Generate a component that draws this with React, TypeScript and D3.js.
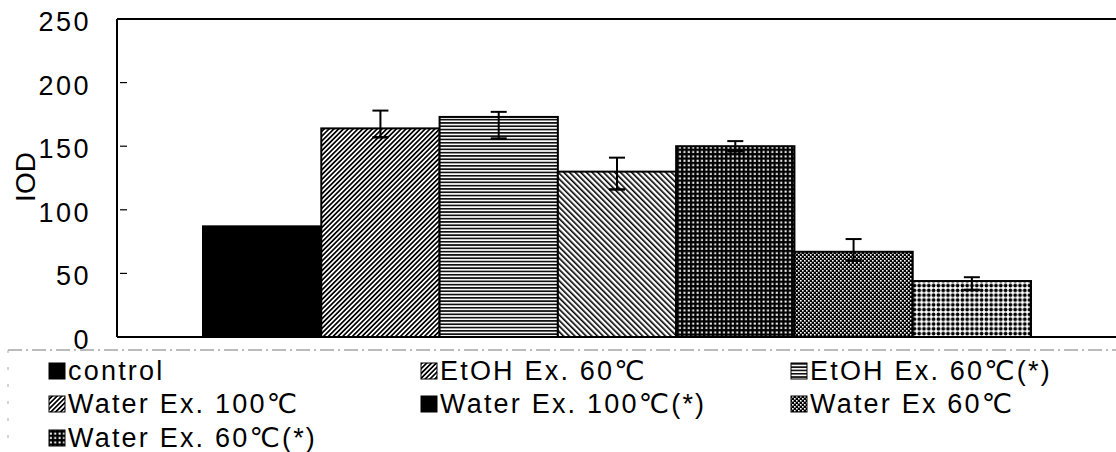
import React from "react";
import * as d3 from "d3";

const categories = [
  "control",
  "EtOH Ex. 60℃",
  "EtOH Ex. 60℃(*)",
  "Water Ex. 100℃",
  "Water Ex. 100℃(*)",
  "Water Ex 60℃",
  "Water Ex. 60℃(*)",
];
const values = [87, 164, 173, 130, 150, 67, 44];
const errUpper = [NaN, 178, 177, 141, 154, 77, 47];
const errLower = [NaN, 157, 156, 116, 146, 60, 37];
const barPatterns = ["solid", "diagR", "horiz", "diagL", "grid", "checker", "dots"];
const legendPatterns = ["solid", "diagR", "horiz", "diagR", "solid", "checker", "grid"];
const yTicks = [0, 50, 100, 150, 200, 250];

const W = 1116;
const H = 452;
const FONT = "'Liberation Sans', Arial, 'DejaVu Sans', 'Noto Sans CJK KR', sans-serif";

function fillFor(p: string) {
  return p === "solid" ? "#000" : `url(#p-${p})`;
}

export default function App() {
  const left = 117;
  const right = 1117;
  const top = 19;
  const bottom = 337;
  const y = d3.scaleLinear().domain([0, 250]).range([bottom, top]);
  const x = d3
    .scaleBand<string>()
    .domain(categories)
    .range([left, right])
    .paddingInner(0)
    .paddingOuter(0.727);

  const legendCols = [49, 421, 791];
  const legendRows = [363, 396, 430];

  return (
    <svg
      width={W}
      height={H}
      style={{ position: "absolute", left: 0, top: 0, background: "#fff" }}
      fontFamily={FONT}
    >
      <defs>
        <pattern id="p-diagR" patternUnits="userSpaceOnUse" width={3.4} height={3.4} patternTransform="rotate(45)">
          <rect width={3.4} height={3.4} fill="#fff" />
          <rect width={1.7} height={3.4} fill="#000" />
        </pattern>
        <pattern id="p-diagL" patternUnits="userSpaceOnUse" width={4} height={4} patternTransform="rotate(-45)">
          <rect width={4} height={4} fill="#fff" />
          <rect width={1.6} height={4} fill="#000" />
        </pattern>
        <pattern id="p-horiz" patternUnits="userSpaceOnUse" width={4} height={3.3}>
          <rect width={4} height={3.3} fill="#fff" />
          <rect width={4} height={1.7} fill="#111" />
        </pattern>
        <pattern id="p-grid" patternUnits="userSpaceOnUse" width={4.4} height={4.4}>
          <rect width={4.4} height={4.4} fill="#000" />
          <rect x={1.4} y={1.4} width={2} height={2} fill="#fff" />
        </pattern>
        <pattern id="p-checker" patternUnits="userSpaceOnUse" width={4} height={4}>
          <rect width={4} height={4} fill="#000" />
          <rect x={0} y={0} width={1.6} height={1.6} fill="#fff" />
          <rect x={2} y={2} width={1.6} height={1.6} fill="#fff" />
        </pattern>
        <pattern id="p-dots" patternUnits="userSpaceOnUse" width={4.8} height={4.8}>
          <rect width={4.8} height={4.8} fill="#fff" />
          <circle cx={2.4} cy={2.4} r={1.9} fill="#000" />
        </pattern>
      </defs>

      {/* plot frame */}
      <line x1={left} x2={W} y1={top} y2={top} stroke="#000" strokeWidth={2} />
      <line x1={left} x2={left} y1={top} y2={bottom} stroke="#000" strokeWidth={2} />

      {/* bars */}
      {categories.map((c, i) => (
        <rect
          key={c}
          x={x(c)!}
          y={y(values[i])}
          width={x.bandwidth()}
          height={bottom - y(values[i])}
          fill={fillFor(barPatterns[i])}
          stroke="#000"
          strokeWidth={2}
        />
      ))}

      {/* error bars */}
      {categories.map((c, i) => {
        if (isNaN(errUpper[i])) return null;
        const cx = x(c)! + x.bandwidth() / 2;
        return (
          <g key={"e" + c} stroke="#000" strokeWidth={2}>
            <line x1={cx} x2={cx} y1={y(errUpper[i])} y2={y(errLower[i])} />
            <line x1={cx - 8} x2={cx + 8} y1={y(errUpper[i])} y2={y(errUpper[i])} />
            <line x1={cx - 8} x2={cx + 8} y1={y(errLower[i])} y2={y(errLower[i])} strokeWidth={2.5} />
          </g>
        );
      })}

      {/* x axis line */}
      <line x1={left} x2={W} y1={bottom} y2={bottom} stroke="#000" strokeWidth={2} />

      {/* y ticks */}
      {yTicks.map((t) => (
        <g key={t}>
          {t > 0 && t < 250 && (
            <line x1={left + 3} x2={left + 10} y1={y(t)} y2={y(t)} stroke="#000" strokeWidth={1.2} />
          )}
          <text
            x={91}
            y={y(t) + 12}
            textAnchor="end"
            fontSize={27}
            letterSpacing={2.5}
            fill="#000"
          >
            {t}
          </text>
        </g>
      ))}

      {/* y label */}
      <text
        transform={`translate(35,177) rotate(-90)`}
        textAnchor="middle"
        fontSize={28}
        fill="#000"
      >
        IOD
      </text>

      {/* legend frame */}
      <line x1={8} x2={W} y1={350} y2={350} stroke="#777" strokeWidth={1} strokeDasharray="14 4 2 4" />
      <line x1={8} x2={8} y1={350} y2={H} stroke="#aaa" strokeWidth={1} strokeDasharray="3 14" />

      {/* legend */}
      {categories.map((c, i) => {
        const col = i % 3;
        const row = Math.floor(i / 3);
        const lx = legendCols[col];
        const ly = legendRows[row];
        return (
          <g key={"l" + c}>
            <rect x={lx} y={ly} width={16} height={16} fill={fillFor(legendPatterns[i])} stroke="#000" strokeWidth={1} />
            <text x={lx + 19} y={ly + 17} fontSize={27} letterSpacing={2.2} fill="#000">
              {c}
            </text>
          </g>
        );
      })}
    </svg>
  );
}
